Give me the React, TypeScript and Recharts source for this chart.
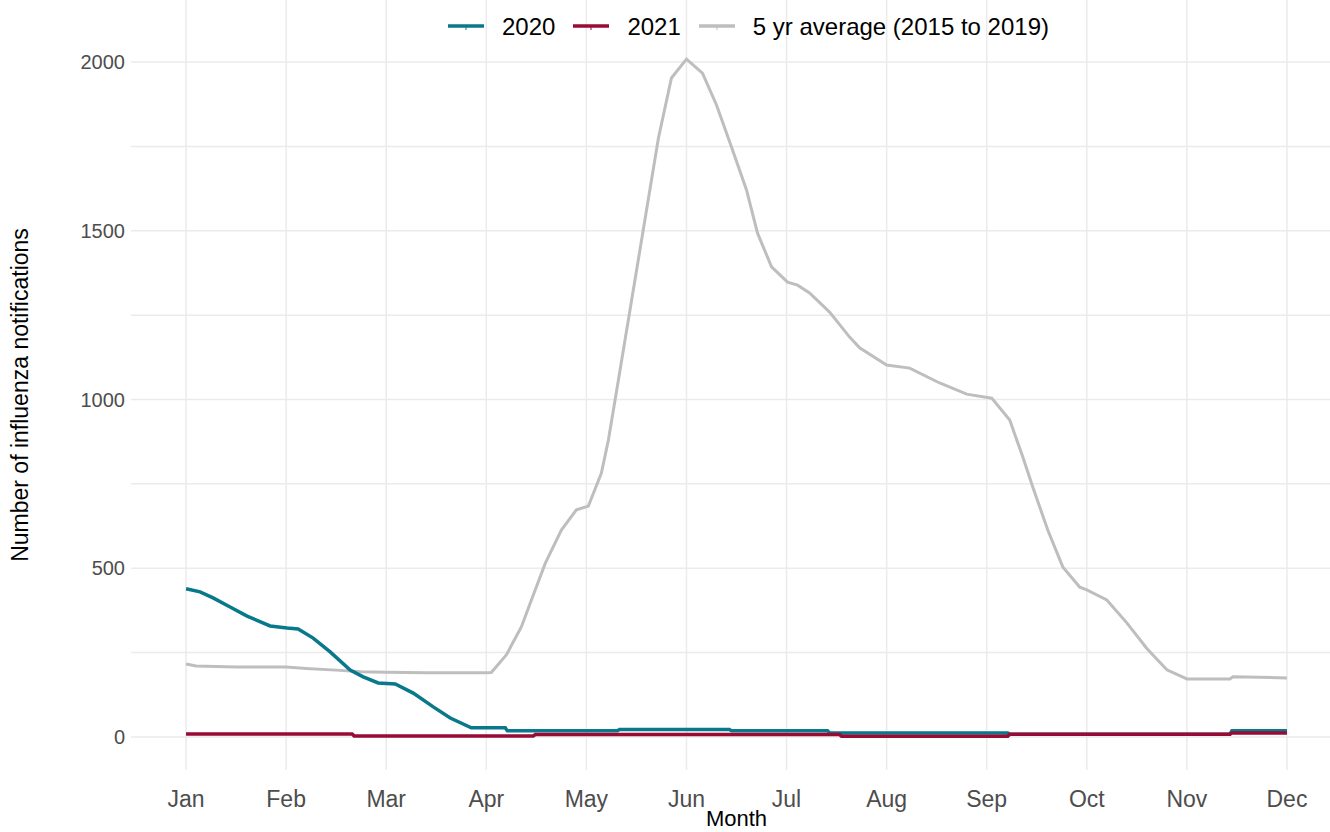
import { Label, Legend, Line, LineChart, ReferenceLine, XAxis, YAxis } from 'recharts';

const months = ['Jan', 'Feb', 'Mar', 'Apr', 'May', 'Jun', 'Jul', 'Aug', 'Sep', 'Oct', 'Nov', 'Dec'];
const monthTicks = [1, 2, 3, 4, 5, 6, 7, 8, 9, 10, 11, 12];
const yTicks = [0, 250, 500, 750, 1000, 1250, 1500, 1750, 2000];

// 5 yr average (2015 to 2019)
const avgMonth = [
  1.0, 1.1, 1.5, 2.0, 2.2, 2.5, 2.75, 3.0, 3.4, 4.0, 4.05, 4.2, 4.35, 4.45, 4.59, 4.75, 4.9,
  5.02, 5.15, 5.22, 5.32, 5.54, 5.72, 5.85, 6.0, 6.16, 6.3, 6.45, 6.6, 6.71, 6.85, 7.01, 7.11,
  7.23, 7.43, 7.63, 7.73, 8.0, 8.23, 8.53, 8.8, 9.05, 9.23, 9.36, 9.46, 9.61, 9.76, 9.93, 10.0,
  10.2, 10.4, 10.6, 10.8, 11.0, 11.43, 11.46, 12.0,
];
const avgValue = [
  216, 210, 207, 207, 203, 198, 193, 192, 190, 190, 191, 243, 326, 405, 515, 613, 673,
  684, 782, 880, 1058, 1452, 1775, 1953, 2009, 1967, 1873, 1748, 1621, 1493, 1393, 1348, 1339,
  1316, 1259, 1185, 1153, 1102, 1093, 1049, 1016, 1004, 939, 830, 741, 613, 504, 444, 436,
  406, 338, 262, 199, 172, 172, 178, 175,
];

// 2020
const m2020 = [
  1.0, 1.14, 1.27, 1.44, 1.61, 1.84, 2.01, 2.12, 2.27, 2.44, 2.64, 2.77, 2.92, 3.09, 3.27, 3.47,
  3.64, 3.85, 4.19, 4.21, 5.31, 5.33, 6.43, 6.45, 7.41, 7.43, 9.21, 9.23, 11.43, 11.45, 12.0,
];
const v2020 = [
  439, 430, 412, 385, 358, 329, 323, 320, 293, 252, 198, 178, 160, 157, 130, 89,
  56, 27, 27, 18, 18, 22, 22, 18, 18, 12, 12, 8, 8, 18, 18,
];

// 2021
const m2021 = [1.0, 2.66, 2.68, 4.47, 4.49, 7.53, 7.55, 9.21, 9.23, 11.43, 11.45, 12.0];
const v2021 = [9, 9, 3, 3, 7, 7, 2, 2, 8, 8, 12, 12];

const toRows = (ms: number[], vs: number[]) => ms.map((m, i) => ({ m, v: vs[i] }));

const avgData = toRows(avgMonth, avgValue);
const data2020 = toRows(m2020, v2020);
const data2021 = toRows(m2021, v2021);

const FONT = '"Liberation Sans", Arial, sans-serif';
const TEAL = '#08788A';
const RED = '#990A35';
const GREY = '#BEBEBE';
const GRID = '#EBEBEB';

const legendItems = [
  { label: '2020', color: TEAL },
  { label: '2021', color: RED },
  { label: '5 yr average (2015 to 2019)', color: GREY },
];

function LegendBox() {
  return (
    <div style={{ display: 'flex', alignItems: 'center', fontFamily: FONT, fontSize: 24, color: '#000' }}>
      {legendItems.map((it) => (
        <div key={it.label} style={{ display: 'flex', alignItems: 'center', marginRight: 18 }}>
          <svg width={36} height={10}>
            <line x1={0} x2={36} y1={4} y2={4} stroke={it.color} strokeWidth={3.5} />
            <line x1={18} x2={18} y1={4} y2={8} stroke={it.color} strokeWidth={1} />
          </svg>
          <span style={{ marginLeft: 18, lineHeight: '28px' }}>{it.label}</span>
        </div>
      ))}
    </div>
  );
}

function MonthTick({ x, y, payload }: any) {
  return (
    <text x={x} y={y + 35} textAnchor="middle" fontFamily={FONT} fontSize={23} fill="#4D4D4D">
      {months[payload.value - 1]}
    </text>
  );
}

function CountTick({ y, payload }: any) {
  if (payload.value % 500 !== 0) return null;
  return (
    <text x={125} y={y + 7} textAnchor="end" fontFamily={FONT} fontSize={20} fill="#4D4D4D">
      {payload.value}
    </text>
  );
}

export default function App() {
  return (
    <div style={{ position: 'absolute', left: 0, top: 0 }}>
      <LineChart width={1330} height={832} margin={{ top: 0, right: 0, bottom: 0, left: 0 }}>
        <XAxis
          type="number"
          dataKey="m"
          domain={[0.45, 12.43]}
          ticks={monthTicks}
          allowDataOverflow
          axisLine={false}
          tickLine={false}
          tickSize={0}
          height={62}
          tick={<MonthTick />}
        >
          <Label
            content={({ viewBox }: any) => (
              <text
                x={viewBox.x + viewBox.width / 2 + 6}
                y={826}
                textAnchor="middle"
                fontFamily={FONT}
                fontSize={22}
                fill="#000"
              >
                Month
              </text>
            )}
          />
        </XAxis>
        <YAxis
          type="number"
          domain={[-98, 2184]}
          ticks={yTicks}
          allowDataOverflow
          axisLine={false}
          tickLine={false}
          tickSize={0}
          width={131}
          tick={<CountTick />}
        >
          <Label
            content={() => (
              <text
                x={0}
                y={0}
                transform="translate(28, 395) rotate(-90)"
                textAnchor="middle"
                fontFamily={FONT}
                fontSize={23}
                fill="#000"
              >
                Number of influenza notifications
              </text>
            )}
          />
        </YAxis>
        {yTicks.map((t) => (
          <ReferenceLine key={`h${t}`} y={t} stroke={GRID} strokeWidth={1.5} />
        ))}
        {monthTicks.map((t) => (
          <ReferenceLine key={`v${t}`} x={t} stroke={GRID} strokeWidth={1.5} />
        ))}
        <Legend
          verticalAlign="middle"
          align="center"
          wrapperStyle={{ top: 13, left: 448, width: 'auto' }}
          content={<LegendBox />}
        />
        <Line
          data={avgData}
          dataKey="v"
          name="5 yr average (2015 to 2019)"
          type="linear"
          stroke={GREY}
          strokeWidth={3}
          dot={false}
          isAnimationActive={false}
        />
        <Line
          data={data2020}
          dataKey="v"
          name="2020"
          type="linear"
          stroke={TEAL}
          strokeWidth={3.5}
          dot={false}
          isAnimationActive={false}
        />
        <Line
          data={data2021}
          dataKey="v"
          name="2021"
          type="linear"
          stroke={RED}
          strokeWidth={3.5}
          dot={false}
          isAnimationActive={false}
        />
      </LineChart>
    </div>
  );
}
